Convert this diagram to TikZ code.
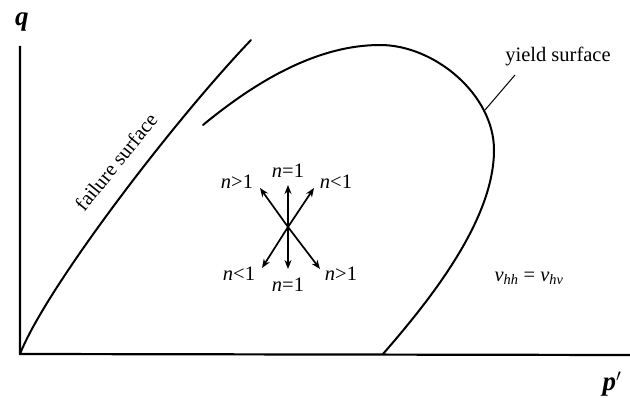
\documentclass[tikz,border=0pt]{standalone}
\usepackage{fontspec}
\setmainfont{Liberation Serif}
\usetikzlibrary{arrows.meta, positioning}

\begin{document}
\begin{tikzpicture}[x=1pt, y=-1pt,
        curve/.style={draw, line width=2pt, line cap=round},
        axis/.style={draw, line width=2.2pt},
        flow/.style={draw, line width=1.7pt, -{Stealth[length=9pt, width=7pt]}},
        tag/.style={inner sep=0pt, font=\fontsize{20.5}{23}\selectfont},
        axlabel/.style={inner sep=0pt, font=\fontsize{27}{30}\selectfont\bfseries\itshape}]

        \useasboundingbox (0,0) rectangle (630,398);

        % Axes
        \coordinate (orig) at (20,354);
        \coordinate (qtop) at (20,46);
        \coordinate (pend) at (630,355);
        \path [axis] (qtop) -- (orig) -- (pend);
        \node [axlabel] (qlab) at (22,22) {q};
        \node [axlabel] (plab) at (612,384) {p$'$};

        % Failure surface
        \path [curve] (orig) .. controls (45,290) and (170,125) .. (251,40);
        \node [tag, rotate=51] (failtag) at (116,162) {failure surface};

        % Yield surface
        \coordinate (ystart) at (203,125);
        \coordinate (ytop) at (380,45);
        \coordinate (yright) at (494,150);
        \coordinate (yfoot) at (383,354);
        \path [curve] (ystart) .. controls (260,78) and (320,45) .. (ytop)
            .. controls (435,45) and (494,95) .. (yright)
            .. controls (494,220) and (430,300) .. (yfoot);
        \coordinate (yieldpt) at (485,110);
        \node [tag] (yieldtag) at (558,56) {yield surface};
        \draw [line width=1pt] (yieldpt) -- (515,75);

        \node [tag] (ratio) at (529,278) {\textit{v}\textsubscript{\itshape hh} = \textit{v}\textsubscript{\itshape hv}};

        % Flow directions
        \coordinate (c) at (288,227);
        \coordinate (tipU) at (288,185);
        \coordinate (tipD) at (288,269);
        \coordinate (tipUL) at (260,188);
        \coordinate (tipUR) at (314,188);
        \coordinate (tipDL) at (262,268);
        \coordinate (tipDR) at (320,269);
        \path [flow] (c) -- (tipU);
        \path [flow] (c) -- (tipD);
        \path [flow] (c) -- (tipUL);
        \path [flow] (c) -- (tipUR);
        \path [flow] (c) -- (tipDL);
        \path [flow] (c) -- (tipDR);

        \node [tag] (nU) at (288,171) {\textit{n}=1};
        \node [tag] (nD) at (288,285) {\textit{n}=1};
        \node [tag] (nUL) at (237,182) {\textit{n}>1};
        \node [tag] (nUR) at (336,182) {\textit{n}<1};
        \node [tag] (nDL) at (239,274) {\textit{n}<1};
        \node [tag] (nDR) at (341,274) {\textit{n}>1};

    \end{tikzpicture}
\end{document}
